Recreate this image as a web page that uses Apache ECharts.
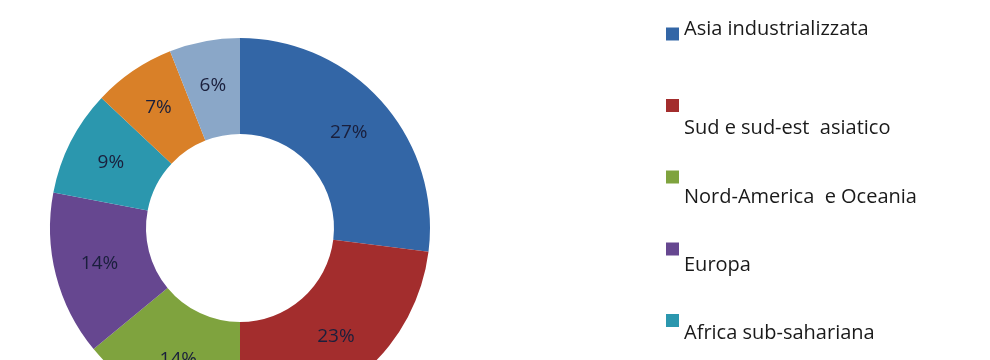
<!DOCTYPE html>
<html>
<head>
<meta charset="utf-8">
<script src="https://cdn.jsdelivr.net/npm/echarts@6/dist/echarts.min.js"></script>
<style>
html,body{margin:0;padding:0;background:#ffffff;}
#chart{width:990px;height:360px;}
</style>
</head>
<body>
<div id="chart"></div>
<script>
var categories = ['Asia industrializzata', 'Sud e sud-est  asiatico', 'Nord-America  e Oceania', 'Europa', 'Africa sub-sahariana', 'America Latina', 'Medio Oriente e Nord Africa'];
var values = [27, 23, 14, 14, 9, 7, 6];
var palette = ['#3366a6', '#a32d2d', '#7fa33e', '#664790', '#2b97ae', '#d98028', '#8aa7c8'];

// legend layout: [top, text shift below the marker]
var legendTops = [19, 71, 145, 221, 296, 370, 441];
var legendShift = [-5, 22.5, 20, 16, 12.5, 10, 10];

var legends = categories.map(function (name, i) {
  var s = legendShift[i];
  var fmt = s >= 0 ? '{s|}\n{t|' + name + '}' : '{t|' + name + '}\n{s|}';
  return {
    orient: 'vertical',
    left: 666,
    top: legendTops[i],
    padding: 0,
    itemWidth: 13,
    itemHeight: 13,
    icon: 'rect',
    selectedMode: false,
    data: [name],
    formatter: function () { return fmt; },
    textStyle: {
      fontFamily: 'Open Sans',
      fontSize: 20,
      color: '#1a1a1a',
      rich: {
        s: {height: Math.abs(2 * s), lineHeight: Math.abs(2 * s), fontSize: 1},
        t: {fontFamily: 'Open Sans', fontSize: 20, lineHeight: 24, color: '#1a1a1a'}
      }
    }
  };
});

var chart = echarts.init(document.getElementById('chart'), null, {renderer: 'canvas'});
chart.setOption({
  backgroundColor: '#ffffff',
  animation: false,
  color: palette,
  legend: legends,
  series: [{
    type: 'pie',
    center: [240, 228],
    radius: [94, 190],
    startAngle: 90,
    clockwise: true,
    avoidLabelOverlap: false,
    itemStyle: {borderWidth: 0},
    label: {
      show: true,
      position: 'inside',
      formatter: '{c}%',
      fontFamily: 'Open Sans',
      fontSize: 19,
      color: '#1a1f3c'
    },
    labelLine: {show: false},
    emphasis: {disabled: true},
    data: categories.map(function (n, i) { return {name: n, value: values[i]}; })
  }]
});
</script>
</body>
</html>
